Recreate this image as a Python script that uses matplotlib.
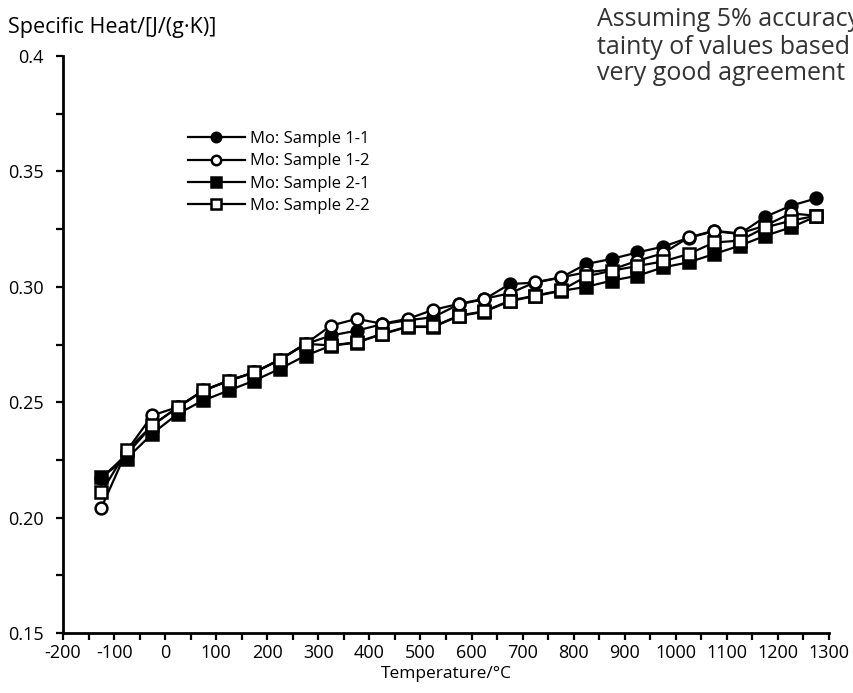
#!/usr/bin/env python3
"""specific heat of Mo samples"""
import numpy as np
import matplotlib.pyplot as plt
from matplotlib.ticker import MultipleLocator

plt.rcParams['font.family'] = ['Open Sans', 'DejaVu Sans']
plt.rcParams['axes.unicode_minus'] = False

temps = [-125, -75, -25, 25, 75, 125, 175, 225, 275, 325, 375, 425, 475,
         525, 575, 625, 675, 725, 775, 825, 875, 925, 975, 1025, 1075,
         1125, 1175, 1225, 1275]

s11 = [0.2170, 0.2275, 0.2400, 0.2478, 0.2550, 0.2593, 0.2629, 0.2684,
       0.2752, 0.2789, 0.2810, 0.2838, 0.2855, 0.2868, 0.2924, 0.2946,
       0.3012, 0.3018, 0.3040, 0.3099, 0.3121, 0.3149, 0.3174, 0.3212,
       0.3241, 0.3229, 0.3303, 0.3351, 0.3383]
s12 = [0.2042, 0.2290, 0.2443, 0.2479, 0.2551, 0.2594, 0.2630, 0.2685,
       0.2753, 0.2832, 0.2861, 0.2840, 0.2861, 0.2900, 0.2926, 0.2948,
       0.2972, 0.3020, 0.3041, 0.3063, 0.3075, 0.3113, 0.3145, 0.3214,
       0.3243, 0.3231, 0.3265, 0.3318, 0.3308]
s21 = [0.2176, 0.2256, 0.2364, 0.2450, 0.2508, 0.2551, 0.2594, 0.2645,
       0.2702, 0.2745, 0.2758, 0.2795, 0.2826, 0.2826, 0.2873, 0.2892,
       0.2938, 0.2960, 0.2982, 0.3000, 0.3027, 0.3048, 0.3084, 0.3106,
       0.3142, 0.3178, 0.3221, 0.3257, 0.3305]
s22 = [0.2109, 0.2291, 0.2400, 0.2479, 0.2551, 0.2594, 0.2630, 0.2685,
       0.2753, 0.2746, 0.2760, 0.2796, 0.2828, 0.2828, 0.2875, 0.2894,
       0.2940, 0.2962, 0.2984, 0.3045, 0.3070, 0.3090, 0.3110, 0.3142,
       0.3192, 0.3200, 0.3257, 0.3286, 0.3308]

labels = ["Mo: Sample 1-1", "Mo: Sample 1-2", "Mo: Sample 2-1",
          "Mo: Sample 2-2"]

fig = plt.figure(figsize=(8.54, 6.93), dpi=100)
ax = fig.add_axes([63 / 854, 60 / 693, 766 / 854, 577 / 693])

ax.plot(temps, s11, color="black", lw=1.6, marker="o", ms=8.5,
        mfc="black", mec="black", mew=1.8, label=labels[0])
ax.plot(temps, s12, color="black", lw=1.6, marker="o", ms=8.5,
        mfc="white", mec="black", mew=1.8, label=labels[1])
ax.plot(temps, s21, color="black", lw=1.6, marker="s", ms=8.5,
        mfc="black", mec="black", mew=1.8, label=labels[2])
ax.plot(temps, s22, color="black", lw=1.6, marker="s", ms=8.5,
        mfc="white", mec="black", mew=1.8, label=labels[3])

ax.set_xlim(-200, 1300)
ax.set_ylim(0.15, 0.4)
ax.xaxis.set_major_locator(MultipleLocator(100))
ax.xaxis.set_minor_locator(MultipleLocator(50))
ax.yaxis.set_major_locator(MultipleLocator(0.05))
ax.yaxis.set_minor_locator(MultipleLocator(0.025))
ax.set_yticklabels([f"{v:.2f}".replace("0.40", "0.4")
                    for v in ax.get_yticks()])
ax.tick_params(which="both", direction="out", length=5, width=1.6,
               labelsize=13, colors="black")
ax.tick_params(axis="y", pad=9)
ax.tick_params(axis="x", pad=3)

for side in ["top", "right"]:
    ax.spines[side].set_visible(False)
for side in ["left", "bottom"]:
    ax.spines[side].set_linewidth(2)

fig.text(8 / 854, 1 - 27 / 693, "Specific Heat/[J/(g·K)]", fontsize=15.5,
         va="center", ha="left")
ax.set_xlabel("Temperature/°C", fontsize=12.5, labelpad=3)

note = ["Assuming 5% accuracy and uncer-",
        "tainty of values based on the",
        "very good agreement of the"]
for i, line in enumerate(note):
    fig.text(597 / 854, 1 - (20 + 27 * i) / 693, line, fontsize=18,
             color="#333333", va="center", ha="left")

leg = ax.legend(loc="upper left", bbox_to_anchor=(188 / 854, 1 - 131 / 693),
                bbox_transform=fig.transFigure, frameon=False, fontsize=12,
                handlelength=3.4, handletextpad=0.3, labelspacing=0.38,
                borderpad=0, borderaxespad=0, markerscale=0.8)

plt.savefig("out.png", dpi=100)
